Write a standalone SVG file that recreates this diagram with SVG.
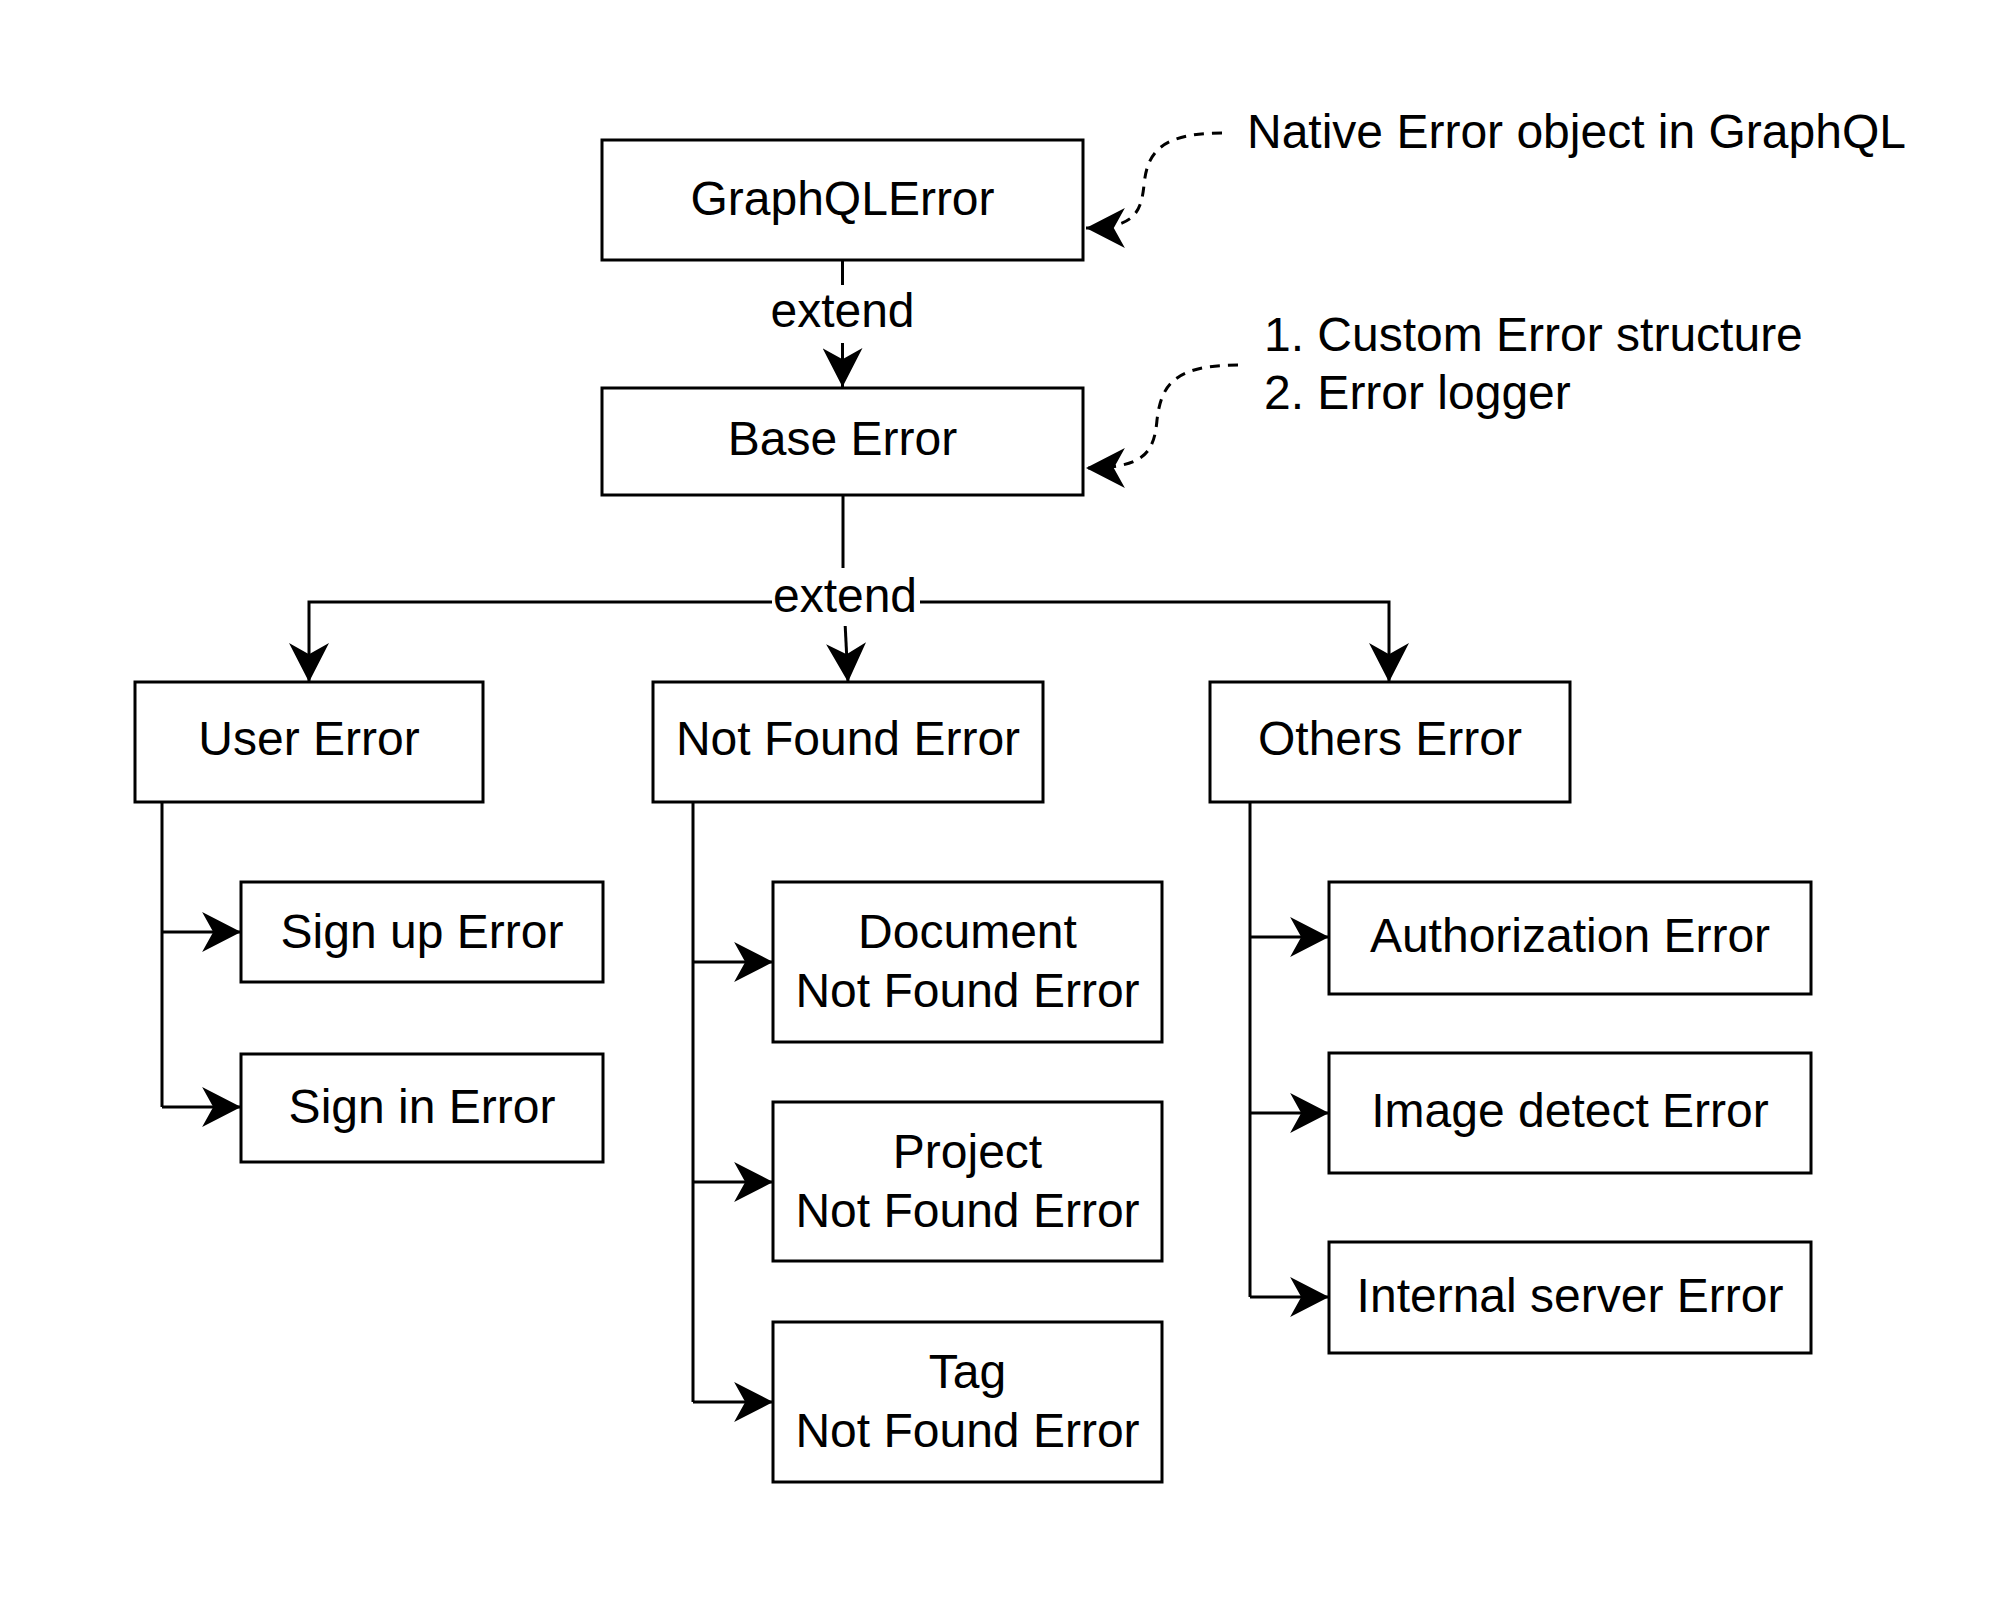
<svg xmlns="http://www.w3.org/2000/svg" width="2004" height="1604" viewBox="0 0 2004 1604">
  <style>
    .box { fill: #ffffff; stroke: #000000; stroke-width: 3; }
    .lbl { font-family: "Liberation Sans", Arial, Helvetica, sans-serif; font-size: 48px; fill: #000000; text-anchor: middle; }
    .note { font-family: "Liberation Sans", Arial, Helvetica, sans-serif; font-size: 48px; fill: #000000; }
    .edge { fill: none; stroke: #000000; stroke-width: 3; marker-end: url(#arrow); }
    .plain { fill: none; stroke: #000000; stroke-width: 3; }
    .dash { fill: none; stroke: #000000; stroke-width: 3; stroke-dasharray: 10 8; marker-end: url(#arrow); }
    .bg { fill: #ffffff; stroke: none; }
  </style>
  <defs>
    <marker id="arrow" markerUnits="userSpaceOnUse" markerWidth="40" markerHeight="40" viewBox="0 0 36 36" refX="35" refY="18" orient="auto">
      <path d="M0,0 L35,18 L0,36 L10,18 Z" fill="#000000" stroke="none"/>
    </marker>
  </defs>
  <rect width="2004" height="1604" fill="#ffffff"/>

  <g id="connectors">
    <path class="edge" d="M842.5 261 L842.5 387"/>
    <path class="plain" d="M843 496 L843 602"/>
    <path class="edge" d="M843 602 L309 602 L309 682"/>
    <path class="edge" d="M843 602 L1389 602 L1389 682"/>
    <path class="edge" d="M844 602 L848 682"/>
    <rect class="bg" x="690" y="285" width="305" height="58"/>
    <text class="lbl" x="842.5" y="327">extend</text>
    <rect class="bg" x="772" y="568" width="148" height="58"/>
    <text class="lbl" x="845" y="612">extend</text>

    <path class="plain" d="M162 802 L162 1107"/>
    <path class="edge" d="M162 932 L241 932"/>
    <path class="edge" d="M162 1107 L241 1107"/>

    <path class="plain" d="M693 802 L693 1402"/>
    <path class="edge" d="M693 962 L773 962"/>
    <path class="edge" d="M693 1182 L773 1182"/>
    <path class="edge" d="M693 1402 L773 1402"/>

    <path class="plain" d="M1250 802 L1250 1297"/>
    <path class="edge" d="M1250 937 L1329 937"/>
    <path class="edge" d="M1250 1113 L1329 1113"/>
    <path class="edge" d="M1250 1297 L1329 1297"/>

    <path class="dash" d="M1222 133 C1158 133 1147 155 1144 185 C1141 215 1132 228 1086 228"/>
    <path class="dash" d="M1238 365 C1172 365 1161 387 1157 420 C1154 455 1142 468 1086 468"/>
  </g>

  <g id="graphqlerror">
    <rect class="box" x="602" y="140" width="481" height="120"/>
    <text class="lbl" x="842.5" y="215">GraphQLError</text>
  </g>
  <g id="baseerror">
    <rect class="box" x="602" y="388" width="481" height="107"/>
    <text class="lbl" x="842.5" y="455">Base Error</text>
  </g>
  <g id="usererror">
    <rect class="box" x="135" y="682" width="348" height="120"/>
    <text class="lbl" x="309" y="755">User Error</text>
  </g>
  <g id="notfounderror">
    <rect class="box" x="653" y="682" width="390" height="120"/>
    <text class="lbl" x="848" y="755">Not Found Error</text>
  </g>
  <g id="otherserror">
    <rect class="box" x="1210" y="682" width="360" height="120"/>
    <text class="lbl" x="1390" y="755">Others Error</text>
  </g>
  <g id="signuperror">
    <rect class="box" x="241" y="882" width="362" height="100"/>
    <text class="lbl" x="422" y="948">Sign up Error</text>
  </g>
  <g id="signinerror">
    <rect class="box" x="241" y="1054" width="362" height="108"/>
    <text class="lbl" x="422" y="1123">Sign in Error</text>
  </g>
  <g id="documentnotfound">
    <rect class="box" x="773" y="882" width="389" height="160"/>
    <text class="lbl" x="967.5" y="948">Document</text>
    <text class="lbl" x="967.5" y="1007">Not Found Error</text>
  </g>
  <g id="projectnotfound">
    <rect class="box" x="773" y="1102" width="389" height="159"/>
    <text class="lbl" x="967.5" y="1168">Project</text>
    <text class="lbl" x="967.5" y="1227">Not Found Error</text>
  </g>
  <g id="tagnotfound">
    <rect class="box" x="773" y="1322" width="389" height="160"/>
    <text class="lbl" x="967.5" y="1388">Tag</text>
    <text class="lbl" x="967.5" y="1447">Not Found Error</text>
  </g>
  <g id="authorizationerror">
    <rect class="box" x="1329" y="882" width="482" height="112"/>
    <text class="lbl" x="1570" y="952">Authorization Error</text>
  </g>
  <g id="imagedetecterror">
    <rect class="box" x="1329" y="1053" width="482" height="120"/>
    <text class="lbl" x="1570" y="1127">Image detect Error</text>
  </g>
  <g id="internalservererror">
    <rect class="box" x="1329" y="1242" width="482" height="111"/>
    <text class="lbl" x="1570" y="1312">Internal server Error</text>
  </g>

  <g id="note-native">
    <text class="note" x="1247" y="148">Native Error object in GraphQL</text>
  </g>
  <g id="note-custom">
    <text class="note" x="1264" y="351">1. Custom Error structure</text>
    <text class="note" x="1264" y="409">2. Error logger</text>
  </g>
</svg>
